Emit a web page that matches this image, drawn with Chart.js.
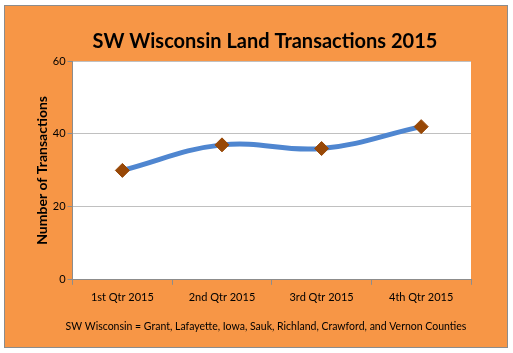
<!DOCTYPE html>
<html>
<head>
<meta charset="utf-8">
<script src="https://cdn.jsdelivr.net/npm/chart.js@4"></script>
<style>
  body { margin: 0; background: #fff; }
  #wrap { width: 513px; height: 353px; }
</style>
</head>
<body>
<div id="wrap"><canvas id="chart" width="513" height="353"></canvas></div>
<script>
// chart data
const quarters = ['1st Qtr 2015', '2nd Qtr 2015', '3rd Qtr 2015', '4th Qtr 2015'];
const transactions = [30, 37, 36, 42];
const yTicks = [0, 20, 40, 60];

const titleText = 'SW Wisconsin Land Transactions 2015';
const noteText = 'SW Wisconsin = Grant, Lafayette, Iowa, Sauk, Richland, Crawford, and Vernon Counties';

const FONT = 'Lato, "Open Sans", sans-serif';

// orange frame behind the chart, white plot area
const framePlugin = {
    id: 'frame',
    beforeDraw(chart) {
        const ctx = chart.ctx;
        const a = chart.chartArea;
        ctx.save();
        ctx.fillStyle = '#ffffff';
        ctx.fillRect(0, 0, chart.width, chart.height);
        ctx.fillStyle = '#F79646';
        ctx.fillRect(4.5, 5.5, 503, 342);
        ctx.strokeStyle = '#8c8c8c';
        ctx.lineWidth = 1;
        ctx.strokeRect(4.5, 5.5, 503, 342);
        ctx.fillStyle = '#ffffff';
        ctx.fillRect(a.left, a.top, a.right - a.left, a.bottom - a.top);
        ctx.restore();
    },
    afterDraw(chart) {
        const ctx = chart.ctx;
        ctx.save();
        ctx.fillStyle = '#000';
        ctx.textAlign = 'center';
        ctx.textBaseline = 'middle';
        ctx.font = 'bold 20px ' + FONT;
        ctx.fillText(titleText, 265, 42);
        ctx.font = '10.5px ' + FONT;
        ctx.fillText(noteText, 266, 327);
        ctx.restore();
    }
};

const ctx = document.getElementById('chart').getContext('2d');
new Chart(ctx, {
    type: 'line',
    data: {
        labels: quarters,
        datasets: [{
            label: 'SW Wisconsin',
            data: transactions,
            borderColor: '#4F86D0',
            borderWidth: 5,
            tension: 0.4,
            pointStyle: 'rectRot',
            pointRadius: 7,
            pointHoverRadius: 7,
            pointBackgroundColor: '#984807',
            pointBorderColor: '#984807',
            pointBorderWidth: 1
        }]
    },
    options: {
        responsive: false,
        animation: false,
        layout: { padding: { left: 34, right: 42, top: 61, bottom: 43 } },
        plugins: {
            legend: { display: false },
            tooltip: { enabled: false }
        },
        scales: {
            x: {
                offset: true,
                grid: {
                    offset: true,
                    drawOnChartArea: false,
                    drawTicks: true,
                    tickLength: 5,
                    color: '#8c8c8c'
                },
                border: { color: '#8c8c8c' },
                ticks: {
                    color: '#000',
                    font: { family: FONT, size: 11 },
                    padding: 6,
                    maxRotation: 0
                }
            },
            y: {
                min: yTicks[0],
                max: yTicks[yTicks.length - 1],
                afterBuildTicks(axis) {
                    axis.ticks = yTicks.map(v => ({ value: v }));
                },
                grid: {
                    color: '#c0c0c0',
                    tickColor: '#8c8c8c',
                    tickLength: 5
                },
                border: { color: '#8c8c8c' },
                ticks: {
                    color: '#000',
                    font: { family: FONT, size: 11 },
                    padding: 2
                },
                title: {
                    display: true,
                    text: 'Number of Transactions',
                    color: '#000',
                    font: { family: FONT, size: 14, weight: 'bold' },
                    padding: { top: 0, bottom: 0 }
                }
            }
        }
    },
    plugins: [framePlugin]
});
</script>
</body>
</html>
